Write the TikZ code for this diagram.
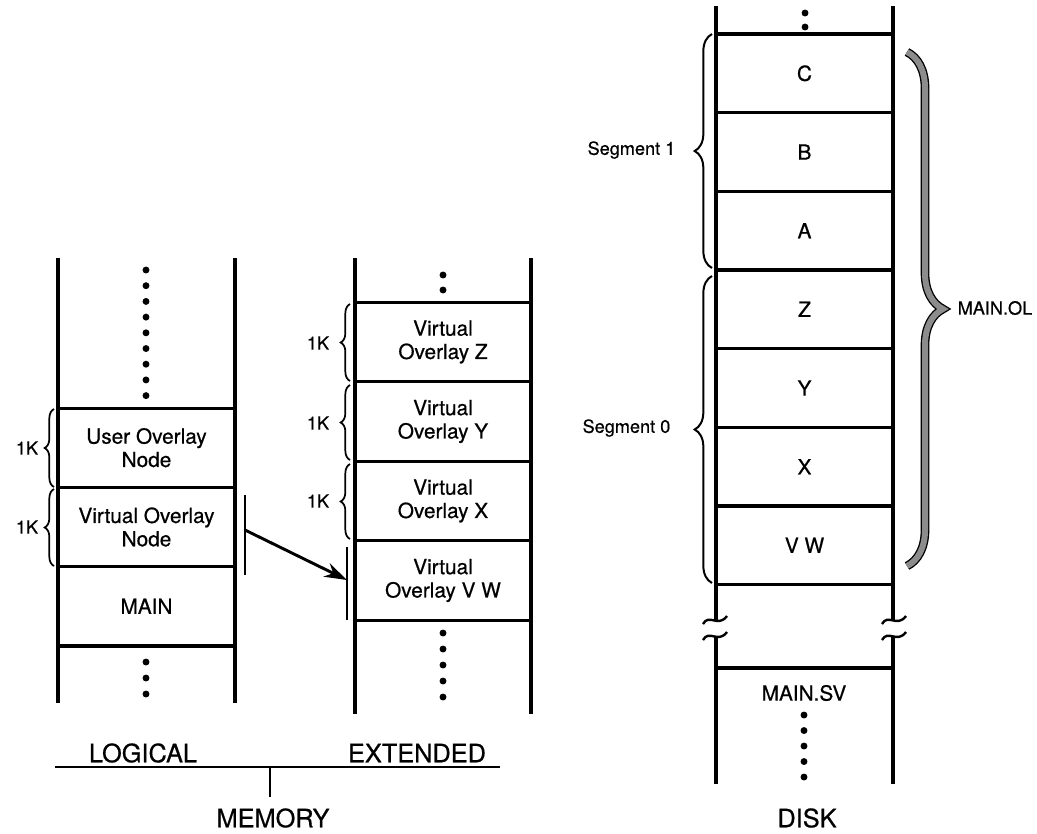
\documentclass[tikz,border=0pt]{standalone}
\usepackage{fontspec}
\setmainfont{TeX Gyre Heros}[FakeBold=0.6]
\usetikzlibrary{decorations.pathreplacing,arrows.meta}
\begin{document}
\begin{tikzpicture}[x=0.75pt,y=-0.75pt,
  colline/.style={line width=2.3pt},
  cellL/.style={draw,line width=2.3pt,minimum width=132.75pt,minimum height=59.5pt,inner sep=0pt,align=center,font=\fontsize{15.6}{17.5}\selectfont},
  cellM/.style={draw,line width=2.3pt,minimum width=132pt,minimum height=59.6pt,inner sep=0pt,align=center,font=\fontsize{15.6}{17.5}\selectfont},
  cellR/.style={draw,line width=2.3pt,minimum width=132.75pt,minimum height=59pt,inner sep=0pt,align=center,font=\fontsize{15.6}{17.5}\selectfont},
  kbrace/.style={decorate,decoration={brace,amplitude=7pt},line width=1.3pt},
  segbrace/.style={decorate,decoration={brace,amplitude=13pt},line width=1.5pt},
  lab/.style={font=\fontsize{13.6}{15}\selectfont},
  biglab/.style={font=\fontsize{19}{21}\selectfont},
  bar/.style={line width=2pt}
]
\useasboundingbox (0,0) rectangle (1037,833);

% ---------- LOGICAL column ----------
\draw[colline] (58,258) -- (58,703);
\draw[colline] (235,258) -- (235,703);
\foreach \i in {0,...,8} \fill (146,270+15.7*\i) circle[radius=2.6pt];
\node[cellL] (user) at (146.5,447.7) {User Overlay\\Node};
\node[cellL] (vnode) at (146.5,527) {Virtual Overlay\\Node};
\node[cellL] (main) at (146.5,606.3) {MAIN};
\foreach \i in {0,...,2} \fill (146,662+16*\i) circle[radius=2.6pt];
\draw[kbrace] (54,487) -- (54,409);
\node[lab] (k1) at (27,448) {1K};
\draw[kbrace] (54,566) -- (54,489);
\node[lab] (k2) at (27,527) {1K};

% bar beside virtual overlay node
\coordinate (lbT) at (245,495);
\coordinate (lbB) at (245,575);
\draw[bar] (lbT) -- (lbB);

% ---------- EXTENDED column ----------
\draw[colline] (355,258) -- (355,714);
\draw[colline] (531,258) -- (531,714);
\fill (443,275) circle[radius=2.6pt];
\fill (443,290) circle[radius=2.6pt];
\node[cellM] (vz) at (443,342) {Virtual\\Overlay Z};
\node[cellM] (vy) at (443,421.5) {Virtual\\Overlay Y};
\node[cellM] (vx) at (443,501) {Virtual\\Overlay X};
\node[cellM] (vvw) at (443,580.5) {Virtual\\Overlay V W};
\foreach \i in {0,...,4} \fill (443,633+16*\i) circle[radius=2.6pt];
\draw[kbrace] (350,381) -- (350,304);
\node[lab] (k3) at (318,343) {1K};
\draw[kbrace] (350,460) -- (350,385);
\node[lab] (k4) at (318,423) {1K};
\draw[kbrace] (350,539) -- (350,464);
\node[lab] (k5) at (318,501) {1K};

\coordinate (mbT) at (347,547);
\coordinate (mbB) at (347,620);
\draw[bar] (mbT) -- (mbB);
\coordinate (arrS) at (245,530);
\coordinate (arrE) at (347,580);
\draw[line width=2.2pt,-{Stealth[length=17pt,width=11pt]}] (arrS) -- (arrE);

% ---------- DISK column ----------
\draw[colline] (716,6) -- (716,620);
\draw[colline] (893,6) -- (893,620);
\draw[colline] (716,636) -- (716,784);
\draw[colline] (893,636) -- (893,784);
\fill (805,13) circle[radius=2.6pt];
\fill (805,27) circle[radius=2.6pt];
\node[cellR] (c) at (804.5,73.3) {C};
\node[cellR] (b) at (804.5,152) {B};
\node[cellR] (a) at (804.5,230.7) {A};
\node[cellR] (z) at (804.5,309.3) {Z};
\node[cellR] (y) at (804.5,388) {Y};
\node[cellR] (x) at (804.5,466.7) {X};
\node[cellR] (vw) at (804.5,545.3) {V W};
% break marks
\foreach \cx in {715,894} {
  \draw[line width=1.8pt] (\cx-12,624) .. controls (\cx-6,613) and (\cx+3,628) .. (\cx+12,616);
  \draw[line width=1.8pt] (\cx-12,640) .. controls (\cx-6,629) and (\cx+3,644) .. (\cx+12,632);
}
\draw[colline] (716,668) -- (893,668);
\node[font=\fontsize{15.6}{17.5}\selectfont] (mainsv) at (804,693) {MAIN.SV};
\foreach \i in {0,...,4} \fill (804,715+15.5*\i) circle[radius=2.6pt];

\draw[segbrace] (712,268) -- (712,34);
\node[lab,anchor=east] (seg1) at (680,150) {Segment 1};
\draw[segbrace] (712,583) -- (712,276);
\node[lab,anchor=east] (seg0) at (675,428) {Segment 0};

\draw[decorate,decoration={brace,amplitude=27pt},line width=6.5pt,black] (907,52) -- (907,566);
\draw[decorate,decoration={brace,amplitude=27pt},line width=4.5pt,black!45] (907,52) -- (907,566);
\node[lab,anchor=west] (mainol) at (953,308) {MAIN.OL};

% ---------- bottom labels ----------
\node[biglab] (logical) at (143,753) {LOGICAL};
\node[biglab] (extended) at (417,753) {EXTENDED};
\coordinate (hl) at (55,767);
\coordinate (hr) at (500,767);
\coordinate (hm) at (270,767);
\coordinate (hmb) at (270,797);
\draw[line width=1.6pt] (hl) -- (hr);
\draw[line width=1.6pt] (hm) -- (hmb);
\node[biglab] (memory) at (273,818) {MEMORY};
\node[biglab] (disk) at (807,818) {DISK};
\end{tikzpicture}
\end{document}
